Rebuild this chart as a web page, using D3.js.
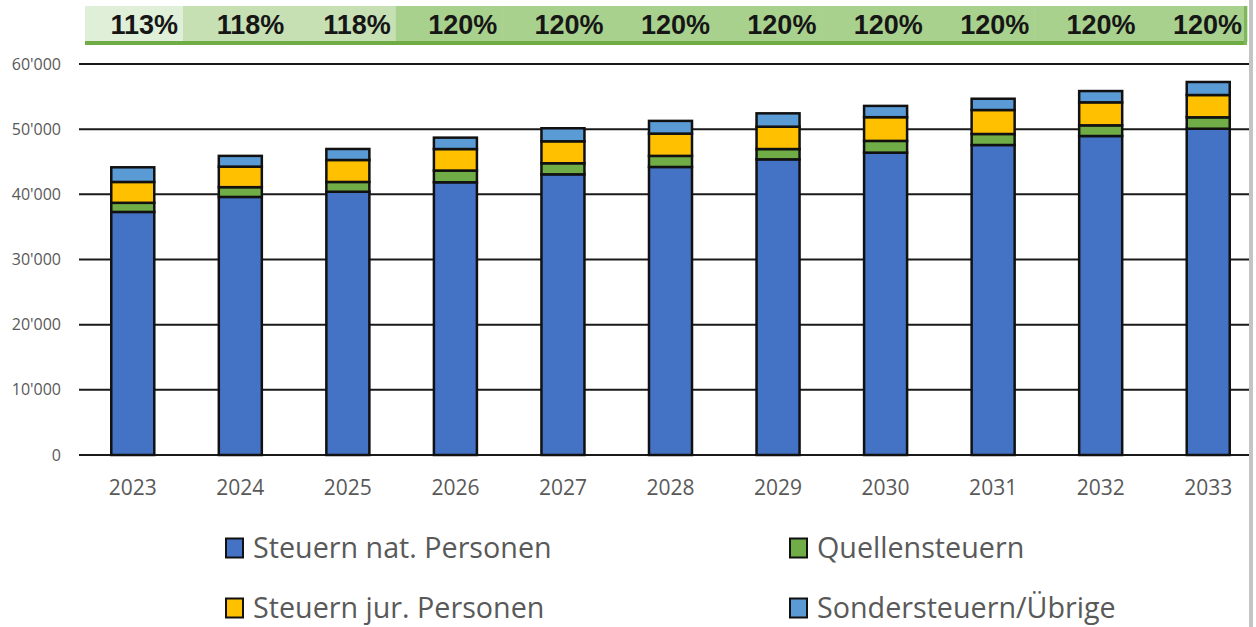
<!DOCTYPE html>
<html>
<head>
<meta charset="utf-8">
<script src="https://cdn.jsdelivr.net/npm/d3@7"></script>
<style>
    body { margin: 0; background: #fff; }
    svg { display: block; }
</style>
</head>
<body>
<script>
    // Data
    var years = ["2023", "2024", "2025", "2026", "2027", "2028", "2029", "2030", "2031", "2032", "2033"];
    var natPersonen = [37300, 39600, 40400, 41850, 43070, 44200, 45370, 46400, 47570, 48950, 50070];
    var quellensteuern = [1400, 1500, 1500, 1800, 1700, 1700, 1580, 1800, 1690, 1640, 1750];
    var jurPersonen = [3200, 3150, 3370, 3300, 3370, 3420, 3430, 3640, 3680, 3530, 3420];
    var sonderUebrige = [2250, 1650, 1690, 1750, 2000, 1950, 2050, 1730, 1730, 1730, 2000];
    var quoten = [113, 118, 118, 120, 120, 120, 120, 120, 120, 120, 120];
    var yTicks = [0, 10000, 20000, 30000, 40000, 50000, 60000];
    var seriesNames = ["Steuern nat. Personen", "Quellensteuern", "Steuern jur. Personen", "Sondersteuern/Übrige"];

    var width = 1256, height = 627;
    var colors = ["#4472c4", "#70ad47", "#ffc000", "#5b9bd5"];
    var labelFont = "'Open Sans', Lato, sans-serif";

    var svg = d3.select("body").append("svg")
        .attr("width", width)
        .attr("height", height);

    // table of rows for stacking
    var rows = years.map(function(y, i){
        return { year: y, s0: natPersonen[i], s1: quellensteuern[i], s2: jurPersonen[i], s3: sonderUebrige[i] };
    });
    var stack = d3.stack().keys(["s0", "s1", "s2", "s3"]);
    var stacked = stack(rows);

    // scales
    var x = d3.scaleBand()
        .domain(years)
        .range([79, 1262])
        .paddingInner(0.6)
        .paddingOuter(0.3);
    var y = d3.scaleLinear()
        .domain([0, 60000])
        .range([455, 64]);

    var fmt = d3.formatLocale({ decimal: ".", thousands: "'", grouping: [3], currency: ["", ""] }).format(",");

    // gridlines
    svg.append("g").selectAll("line")
        .data(yTicks)
        .enter().append("line")
        .attr("x1", 79)
        .attr("x2", 1250)
        .attr("y1", function(d){ return y(d); })
        .attr("y2", function(d){ return y(d); })
        .attr("stroke", "#1a1a1a")
        .attr("stroke-width", 2);

    // y axis labels
    var yAxis = d3.axisLeft(y).tickValues(yTicks).tickFormat(fmt).tickSize(0).tickPadding(0);
    var yG = svg.append("g")
        .attr("transform", "translate(61,0)")
        .call(yAxis);
    yG.select(".domain").remove();
    yG.selectAll("text")
        .attr("font-family", labelFont)
        .attr("font-size", 16)
        .attr("fill", "#595959");

    // stacked bars
    svg.append("g").selectAll("g")
        .data(stacked)
        .enter().append("g")
        .attr("fill", function(d, i){ return colors[i]; })
        .selectAll("rect")
        .data(function(d){ return d; })
        .enter().append("rect")
        .attr("x", function(d){ return x(d.data.year); })
        .attr("width", x.bandwidth())
        .attr("y", function(d){ return y(d[1]); })
        .attr("height", function(d){ return y(d[0]) - y(d[1]); })
        .attr("stroke", "#111")
        .attr("stroke-width", 2.5);

    // x axis labels
    var xAxis = d3.axisBottom(x).tickSize(0).tickPadding(0);
    var xG = svg.append("g")
        .attr("transform", "translate(0,480)")
        .call(xAxis);
    xG.select(".domain").remove();
    xG.selectAll("text")
        .attr("font-family", labelFont)
        .attr("font-size", 21)
        .attr("fill", "#595959");

    // percentage strip on top (table row of cells)
    var cells = d3.scaleBand()
        .domain(years)
        .range([76.6, 1247]);
    var shade = d3.scaleOrdinal()
        .domain([113, 118, 120])
        .range(["#e0efd8", "#c6e0b4", "#a9d18e"]);
    var strip = svg.append("g");
    strip.selectAll("rect")
        .data(years)
        .enter().append("rect")
        .attr("x", function(d){ return Math.max(85, cells(d)); })
        .attr("width", function(d){ return cells(d) + cells.bandwidth() - Math.max(85, cells(d)) + 0.5; })
        .attr("y", 6)
        .attr("height", 36)
        .attr("fill", function(d, i){ return shade(quoten[i]); });
    strip.append("rect")
        .attr("x", 85)
        .attr("y", 41)
        .attr("width", 1247 - 85)
        .attr("height", 4)
        .attr("fill", "#6fac46");
    strip.append("rect")
        .attr("x", 1244)
        .attr("y", 6)
        .attr("width", 3)
        .attr("height", 39)
        .attr("fill", "#7fb85a");
    strip.selectAll("text")
        .data(years)
        .enter().append("text")
        .attr("x", function(d){ return cells(d) + cells.bandwidth() - 5; })
        .attr("y", 34)
        .attr("text-anchor", "end")
        .attr("font-family", "'Liberation Sans', Arial, sans-serif")
        .attr("font-weight", "bold")
        .attr("font-size", 27)
        .attr("fill", "#161616")
        .text(function(d, i){ return quoten[i] + "%"; });

    // grey right edge
    svg.append("rect")
        .attr("x", 1249)
        .attr("y", 0)
        .attr("width", 4)
        .attr("height", height)
        .attr("fill", "#c4c4c4");

    // legend, 2 columns x 2 rows
    var legendPos = [[226, 548], [790, 548], [226, 608], [790, 608]];
    var legend = svg.append("g").selectAll("g")
        .data(seriesNames)
        .enter().append("g")
        .attr("transform", function(d, i){ return "translate(" + legendPos[i][0] + "," + legendPos[i][1] + ")"; });
    legend.append("rect")
        .attr("x", 0)
        .attr("y", -9.5)
        .attr("width", 17)
        .attr("height", 19)
        .attr("fill", function(d, i){ return colors[i]; })
        .attr("stroke", "#111")
        .attr("stroke-width", 2);
    legend.append("text")
        .attr("x", 27)
        .attr("y", 0)
        .attr("dy", "0.35em")
        .attr("font-family", labelFont)
        .attr("font-size", 28.7)
        .attr("fill", "#595959")
        .text(function(d){ return d; });
</script>
</body>
</html>
